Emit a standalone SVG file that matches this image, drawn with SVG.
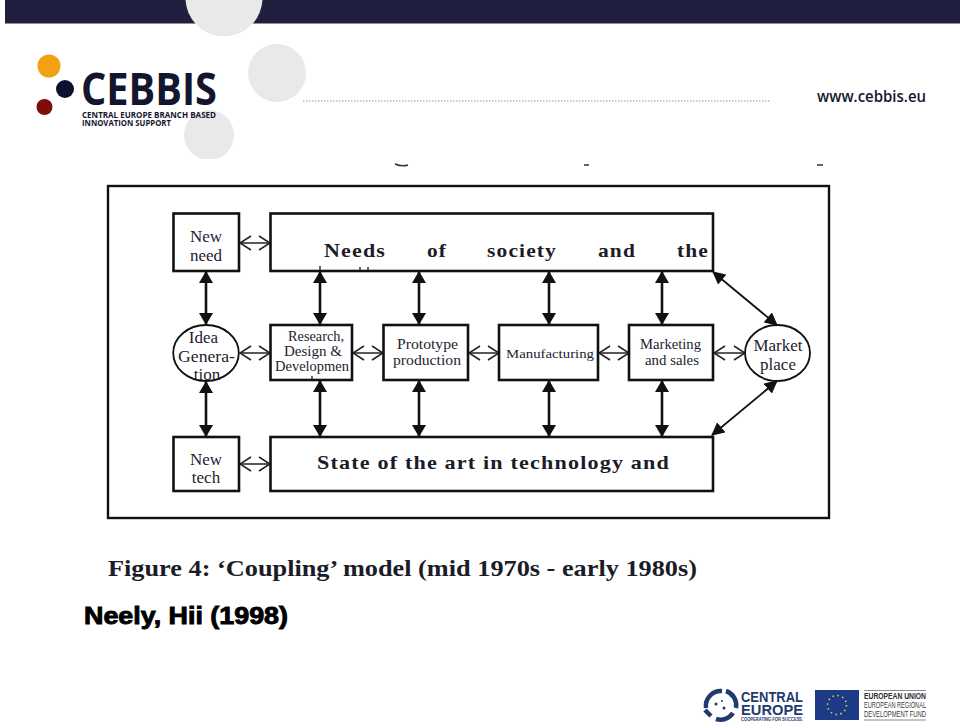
<svg xmlns="http://www.w3.org/2000/svg" width="960" height="728" viewBox="0 0 960 728">
<style>
.box{fill:#fff;stroke:#111;stroke-width:2.600}
.ell{fill:#fff;stroke:#111;stroke-width:1.800}
.sf{font-family:"Liberation Serif","Times New Roman",serif;fill:#23232f;text-anchor:middle}
.s15{font-size:17px}.s13{font-size:15px}
.big{font-family:"Liberation Serif",serif;font-weight:bold;font-size:19px;letter-spacing:1px;fill:#1c1c28}
.heavy{stroke:#111;stroke-width:2.600;fill:none;marker-start:url(#fill);marker-end:url(#fill)}
.thin{stroke:#222;stroke-width:1.500;fill:none;marker-start:url(#open);marker-end:url(#open)}
.diag{stroke:#111;stroke-width:1.800;fill:none;marker-start:url(#fillD);marker-end:url(#fillD)}
.lg{font-family:"Open Sans","Liberation Sans",sans-serif;fill:#14152f}
.eu{font-family:"Liberation Sans",sans-serif;fill:#3b3b3f;font-size:8.500px}
.ce{font-family:"Liberation Sans",sans-serif;font-weight:bold;fill:#1f3a6e}
</style>
<defs>
<marker id="fill" viewBox="0 0 12 14" refX="11" refY="7" markerWidth="12" markerHeight="14" markerUnits="userSpaceOnUse" orient="auto-start-reverse"><path d="M0 0L12 7L0 14Z" fill="#111"/></marker>
<marker id="fillD" viewBox="0 0 13 13" refX="12" refY="6.500" markerWidth="13" markerHeight="13" markerUnits="userSpaceOnUse" orient="auto-start-reverse"><path d="M0 0L13 6.500L0 13Z" fill="#111"/></marker>
<marker id="open" viewBox="0 0 13 16" refX="12" refY="8" markerWidth="13" markerHeight="16" markerUnits="userSpaceOnUse" orient="auto-start-reverse"><path d="M1 1L12 8L1 15" fill="none" stroke="#222" stroke-width="1.500"/></marker>
<clipPath id="clipC"><rect x="150" y="100" width="120" height="59"/></clipPath>
</defs>
<rect width="960" height="728" fill="#fff"/>
<g id="header">
<rect x="5" y="0" width="955" height="23.500" fill="#211f3f"/>
<circle cx="224" cy="-2" r="38.500" fill="#e9e9e9"/>
<circle cx="277" cy="73" r="29" fill="#e9e9e9"/>
<circle cx="209" cy="135" r="25" fill="#e9e9e9" clip-path="url(#clipC)"/>
<line x1="303" y1="101" x2="770" y2="101" stroke="#c9c9c9" stroke-width="2" stroke-dasharray="1.500 1.500"/>
<text x="817" y="102" font-family="'Open Sans','Liberation Sans',sans-serif" font-weight="600" font-size="15.500" fill="#14152f" textLength="109" lengthAdjust="spacingAndGlyphs">www.cebbis.eu</text>
</g>
<g id="logo">
<circle cx="49" cy="66" r="11.500" fill="#f2a112"/>
<circle cx="65" cy="89" r="9" fill="#0f1030"/>
<circle cx="44.500" cy="107" r="8" fill="#800d0d"/>
<text class="lg" x="81" y="105" font-size="44" font-weight="700" textLength="136" lengthAdjust="spacingAndGlyphs">CEBBIS</text>
<text class="lg" x="82" y="118" font-size="9" font-weight="700" textLength="134" lengthAdjust="spacingAndGlyphs">CENTRAL EUROPE BRANCH BASED</text>
<text class="lg" x="82" y="126" font-size="9" font-weight="700" textLength="89" lengthAdjust="spacingAndGlyphs">INNOVATION SUPPORT</text>
</g>
<g id="clipped-marks" stroke="#333" stroke-width="1.500" fill="none">
<path d="M395 164Q402 167 408 165"/>
<path d="M584 165h5"/>
<path d="M817 165h6"/>
</g>
<rect id="frame" x="108" y="186" width="721" height="332" fill="#fff" stroke="#111" stroke-width="2.400"/>
<g id="connectors">
<line class="heavy" x1="206" y1="272" x2="206" y2="324"/>
<line class="heavy" x1="320" y1="272" x2="320" y2="324"/>
<line class="heavy" x1="419" y1="272" x2="419" y2="324"/>
<line class="heavy" x1="549" y1="272" x2="549" y2="324"/>
<line class="heavy" x1="662" y1="272" x2="662" y2="324"/>
<line class="heavy" x1="206" y1="382" x2="206" y2="436"/>
<line class="heavy" x1="320" y1="381" x2="320" y2="436"/>
<line class="heavy" x1="419" y1="381" x2="419" y2="436"/>
<line class="heavy" x1="549" y1="381" x2="549" y2="436"/>
<line class="heavy" x1="662" y1="381" x2="662" y2="436"/>
<line class="thin" x1="240" y1="243" x2="270" y2="243"/>
<line class="thin" x1="240" y1="464" x2="270" y2="464"/>
<line class="thin" x1="240" y1="353" x2="270" y2="353"/>
<line class="thin" x1="353" y1="353" x2="383" y2="353"/>
<line class="thin" x1="469" y1="353" x2="499" y2="353"/>
<line class="thin" x1="599" y1="353" x2="629" y2="353"/>
<line class="thin" x1="714" y1="353" x2="745" y2="353"/>
<line class="diag" x1="713" y1="272" x2="777" y2="325"/>
<line class="diag" x1="712" y1="435" x2="777" y2="381"/>
</g>
<g id="new-need"><rect class="box" x="173.500" y="213.500" width="65.500" height="57.500"/>
<text class="sf s15" x="206" y="242">New</text><text class="sf s15" x="206" y="261">need</text></g>
<g id="needs"><rect class="box" x="270.500" y="213.500" width="442.500" height="57.500"/>
<g class="big"><text x="324" y="257" textLength="62" lengthAdjust="spacingAndGlyphs">Needs</text><text x="427" y="257" textLength="20" lengthAdjust="spacingAndGlyphs">of</text><text x="487" y="257" textLength="70" lengthAdjust="spacingAndGlyphs">society</text><text x="598" y="257" textLength="38" lengthAdjust="spacingAndGlyphs">and</text><text x="677" y="257" textLength="32" lengthAdjust="spacingAndGlyphs">the</text></g>
<path d="M320 270v-4M360 270v-3M368 270v-3" stroke="#333" stroke-width="1.500"/></g>
<g id="idea"><ellipse class="ell" cx="206" cy="353" rx="32.800" ry="28"/>
<text class="sf s15" x="203.500" y="343">Idea</text><text class="sf s15" x="206.500" y="362" textLength="57" lengthAdjust="spacingAndGlyphs">Genera-</text><text class="sf s15" x="207" y="380">tion</text></g>
<g id="research"><rect class="box" x="270.500" y="325" width="81.500" height="55"/>
<path d="M312 379v-3" stroke="#333" stroke-width="1.500"/>
<text class="sf s13" x="316" y="341" textLength="56" lengthAdjust="spacingAndGlyphs">Research,</text><text class="sf s13" x="313" y="356" textLength="58" lengthAdjust="spacingAndGlyphs">Design &amp;</text><text class="sf s13" x="312" y="370.500" textLength="74" lengthAdjust="spacingAndGlyphs">Developmen</text></g>
<g id="prototype"><rect class="box" x="383.500" y="325" width="84.500" height="55"/>
<text class="sf s13" x="427.500" y="349" textLength="61" lengthAdjust="spacingAndGlyphs">Prototype</text><text class="sf s13" x="427" y="365" textLength="68" lengthAdjust="spacingAndGlyphs">production</text></g>
<g id="manufacturing"><rect class="box" x="499" y="325" width="99" height="55"/>
<text class="sf" font-size="13" x="550" y="358" textLength="88" lengthAdjust="spacingAndGlyphs">Manufacturing</text></g>
<g id="marketing"><rect class="box" x="629" y="325" width="84" height="55"/>
<text class="sf s13" x="670.500" y="349" textLength="61" lengthAdjust="spacingAndGlyphs">Marketing</text><text class="sf s13" x="672" y="365" textLength="54" lengthAdjust="spacingAndGlyphs">and sales</text></g>
<g id="market"><ellipse class="ell" cx="777.500" cy="353" rx="32.500" ry="28"/>
<text class="sf s15" x="778" y="351" textLength="49" lengthAdjust="spacingAndGlyphs">Market</text><text class="sf s15" x="778" y="370">place</text></g>
<g id="new-tech"><rect class="box" x="173.500" y="437" width="65.500" height="54"/>
<text class="sf s15" x="206" y="465">New</text><text class="sf s15" x="206" y="483">tech</text></g>
<g id="state"><rect class="box" x="270.500" y="437" width="442.500" height="54"/>
<text class="big" x="317" y="469" textLength="353" lengthAdjust="spacingAndGlyphs">State of the art in technology and</text></g>
<text id="caption" x="108" y="576" font-family="'Liberation Serif',serif" font-weight="bold" font-size="24" fill="#1c1c28" textLength="589" lengthAdjust="spacingAndGlyphs">Figure 4: ‘Coupling’ model (mid 1970s - early 1980s)</text>
<text id="cite" x="84" y="624" font-family="'Liberation Sans',sans-serif" font-weight="bold" font-size="23.500" fill="#000" stroke="#000" stroke-width="0.900" textLength="204" lengthAdjust="spacingAndGlyphs">Neely, Hii (1998)</text>
<g id="central-europe">
<g fill="none" stroke="#1f3a6e" stroke-width="4.500"><path d="M706 708A15 15 0 0 1 722 691"/><path d="M726 691A15 15 0 0 1 736 708"/><path d="M733 713A15 15 0 0 1 716 719"/><path d="M711 716L705 710"/></g>
<circle cx="716" cy="704" r="1.500" fill="#1f3a6e"/><circle cx="724" cy="708" r="1.500" fill="#1f3a6e"/><circle cx="722" cy="701" r="1" fill="#1f3a6e"/>
<text class="ce" x="741" y="702" font-size="14.500" textLength="62" lengthAdjust="spacingAndGlyphs">CENTRAL</text>
<text class="ce" x="741" y="715" font-size="14.500" textLength="62" lengthAdjust="spacingAndGlyphs">EUROPE</text>
<text class="ce" x="741" y="720.500" font-size="4.500" textLength="62" lengthAdjust="spacingAndGlyphs">COOPERATING FOR SUCCESS.</text>
</g>
<g id="eu">
<rect x="815" y="690" width="44" height="30" fill="#1c3a86"/>
<circle cx="837" cy="705" r="9.500" fill="none" stroke="#d9c95a" stroke-width="1.600" stroke-dasharray="1.600 3.370"/>
<path d="M864 690.500H926M864 720H926" stroke="#8a8a8a" stroke-width="1"/>
<text class="eu" x="864" y="699" font-weight="bold" style="fill:#2c2c35" textLength="62" lengthAdjust="spacingAndGlyphs">EUROPEAN UNION</text>
<text class="eu" x="864" y="708" textLength="62" lengthAdjust="spacingAndGlyphs">EUROPEAN REGIONAL</text>
<text class="eu" x="864" y="717" textLength="62" lengthAdjust="spacingAndGlyphs">DEVELOPMENT FUND</text>
</g>
</svg>
